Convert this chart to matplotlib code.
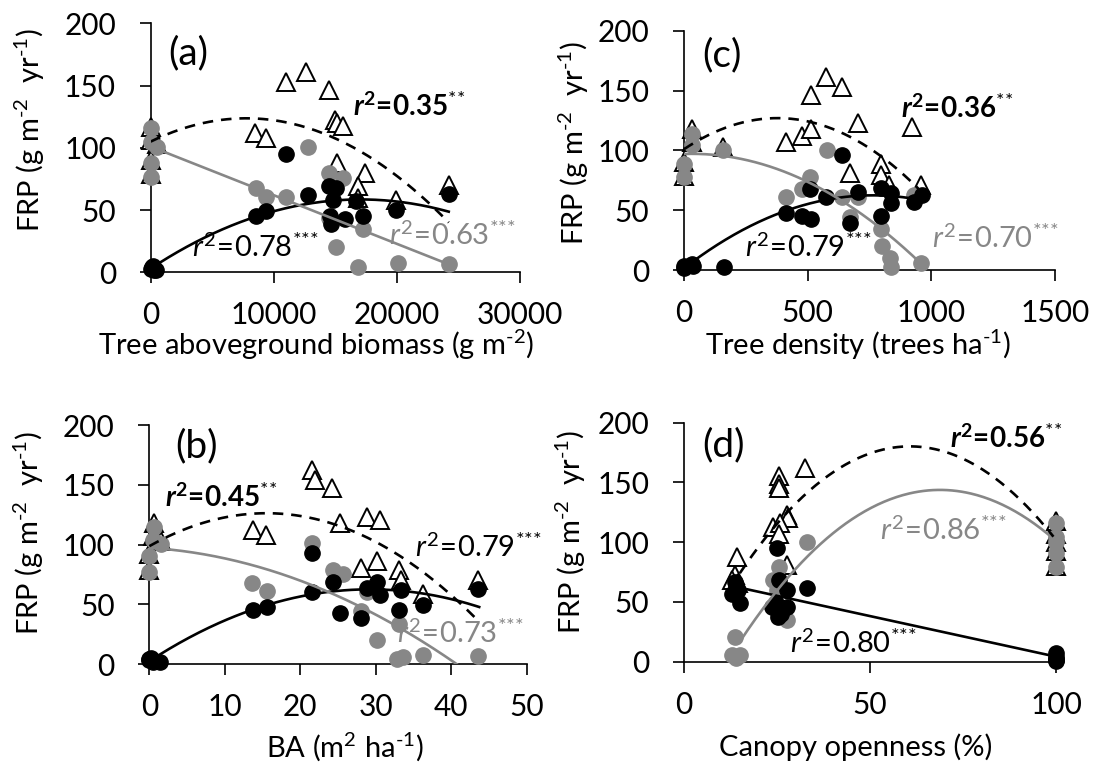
import numpy as np
import matplotlib
matplotlib.use('Agg')
import matplotlib.pyplot as plt

FONT = 'Lato'
plt.rcParams['font.family'] = [FONT, 'DejaVu Sans']
plt.rcParams['mathtext.fontset'] = 'custom'
plt.rcParams['mathtext.rm'] = FONT
plt.rcParams['mathtext.it'] = FONT + ':italic'
plt.rcParams['mathtext.bf'] = FONT + ':bold'
HAS_BFIT = 'mathtext.bfit' in plt.rcParams
if HAS_BFIT:
    plt.rcParams['mathtext.bfit'] = FONT + ':italic:bold'

GREY = '#878787'

# ---------------- data: panel (a) tree aboveground biomass ----------------
a_tri_x = [0, 0, 486, 0, 0, 8510, 9350, 11030, 12650, 14490, 14950, 15100, 15620,
           15140, 17380, 16840, 16840, 19950, 24220]
a_tri_y = [117, 106, 103, 90, 79, 112, 108, 153, 161, 146.5, 122, 120, 117.5,
           87.5, 79.5, 69, 59.4, 58, 70]
a_grey_x = [0, 0, 486, 0, 0, 12780, 8540, 9350, 11030, 14490, 15620, 14490, 15080,
            16840, 17240, 20080, 24220]
a_grey_y = [115.7, 105, 101, 88, 76.8, 101, 67.5, 60.8, 60.8, 79.5, 75.5, 43.4, 20.6,
            4.6, 34.5, 7.2, 6.4]
a_blk_x = [0, 200, 400, 100, 300, 8540, 9400, 11030, 12780, 14490, 15080, 14810, 14540,
           14680, 15760, 16700, 17240, 19950, 24270]
a_blk_y = [3, 5, 2, 4, 1.5, 45, 49, 95, 62, 69, 67.5, 58, 45, 39, 43, 57, 45, 50, 63]
# fitted curves, anchor points
a_fit_blk = ([0, 8540, 24216], [3, 44.7, 48.7])
a_fit_grey = ([0, 24216], [101, 6.4])
a_fit_dash = ([0, 7784, 24216], [105, 123.7, 40])

# ---------------- data: panel (c) tree density ----------------
c_tri_x = [31, 31, 159, 0, 0, 576, 514, 639, 413, 477, 514, 703, 923, 670, 795, 795, 828, 957]
c_tri_y = [118, 107, 103, 90, 79, 161, 146, 153, 107, 112, 118, 122.5, 119.8, 80.8, 88.3,
           79.4, 71, 71]
c_grey_x = [31, 31, 0, 0, 159, 578, 511, 477, 413, 639, 703, 670, 795, 801, 833, 835, 957, 930]
c_grey_y = [114, 104.5, 89, 78, 100, 100, 78, 68, 61, 61, 61, 44.6, 34, 20, 9.7, 2.8, 6.1, 62.7]
c_blk_x = [0, 0, 31, 35, 162, 413, 477, 514, 639, 511, 576, 703, 670, 795, 835, 835, 795, 930, 963]
c_blk_y = [3, 1.5, 5, 3, 2.2, 47.4, 45, 43, 96, 68, 60.7, 65.5, 39.6, 68.2, 64, 55.7, 45, 57, 62.7]
c_fit_blk = ([0, 413, 957], [1.5, 49.6, 58.5])
c_fit_grey = ([0, 497, 957], [97, 74, 5.6])
c_fit_dash = ([0, 416, 957], [101, 126.7, 66])

# ---------------- data: panel (b) basal area ----------------
b_tri_x = [0.6, 0.5, 1.6, 0, 0, 21.6, 21.9, 24.2, 13.7, 15.5, 25.3, 28.9, 30.6, 28, 30.1,
           33.1, 33.4, 36.2, 43.6]
b_tri_y = [118, 107, 103, 92, 79, 162, 154, 147, 112, 108, 117.7, 123.3, 120.5, 80, 86.5,
           78.7, 70, 59, 70]
b_grey_x = [0.6, 0.5, 1.6, 0, 0, 21.6, 13.6, 15.6, 24.3, 25.6, 28.0, 28.9, 30.2, 33.1,
            32.8, 33.6, 36.2, 43.6]
b_grey_y = [115, 104, 100.4, 90, 77, 101.5, 68, 61.4, 78.7, 75.3, 44.6, 60.5, 20, 33.5,
            3.9, 6.1, 7.5, 6.7]
b_blk_x = [0, 0.5, 1.4, 0.2, 0, 13.7, 15.6, 21.6, 21.6, 24.3, 25.3, 28.0, 28.9, 30.1,
           30.5, 33.1, 33.4, 36.2, 43.6]
b_blk_y = [4, 2, 2, 5, 3, 45.2, 48, 93, 60.5, 68.9, 42.4, 38.2, 63.3, 68.9, 57.7, 45.2,
           62, 49.4, 62.5]
b_fit_blk = ([0, 13.7, 28.3, 43.7], [2, 46.5, 61.5, 48])
b_fit_grey = ([0, 10.7, 21.6, 32.8, 41.1], [96, 89.8, 66, 28.5, 0])
b_fit_dash = ([0, 15.1, 32.8, 43.6], [98, 128, 89.8, 37])

# ---------------- data: panel (d) canopy openness ----------------
d_tri_x = [14.2, 13.7, 25.4, 25.4, 25.4, 32.5, 27.6, 28, 24, 25.8, 25.4, 27.6,
           100, 100, 100, 100, 100, 13, 14.5]
d_tri_y = [88, 72.5, 155, 149, 145, 162, 123, 120, 113, 116, 107, 81,
           118, 107, 100, 93, 80, 68, 66]
d_grey_x = [13.7, 12.8, 15, 14.1, 100, 100, 100, 100, 100, 33, 25.4, 24, 27.6, 25, 14]
d_grey_y = [21, 5.5, 5.5, 3, 115.8, 104.6, 90.7, 79.5, 100, 100.4, 79.5, 68.3, 34.9, 60, 62]
d_blk_x = [100, 100, 100, 100, 100, 13.7, 14.1, 15, 12.8, 14.6, 24.9, 25.4, 27.6, 24.6,
           26, 27.6, 25.2, 23.7, 33]
d_blk_y = [4, 1.4, 7, 2, 0.5, 67, 63, 49, 57, 60, 94.8, 68.3, 60, 49, 40, 46, 37, 46, 61.4]
d_fit_blk = ([13.7, 100], [62.8, 4.2])
d_fit_grey = ([15, 69.7, 99.7], [16.7, 143.7, 101.8])
d_fit_dash = ([15, 62.5, 99.3], [74, 180, 104.6])

y_ticks = [0, 50, 100, 150, 200]

# ---------------- helpers ----------------
def r2_label(val, stars, bold):
    st = '^{' + ''.join('{*}' for _ in range(stars)) + '}'
    if bold:
        r = r'\mathbfit{r}' if HAS_BFIT else r'\mathbf{r}'
        return r'$' + r + r'^{\mathbf{2}}\!\mathregular{=}\!\mathregular{' + val + '}' + st + '$'
    return r'$\mathit{r}^{\mathregular{2}}\!\mathregular{=}\!\mathregular{' + val + '}' + st + '$'


def fit_curve(ax, anchors, deg, **kw):
    xs, ys = anchors
    coef = np.polyfit(xs, ys, deg)
    xx = np.linspace(min(xs), max(xs), 200)
    ax.plot(xx, np.polyval(coef, xx), **kw)


def panel(rect, tri, grey, blk, fits, xlim, xticks, letter, letter_xy, notes):
    ax = fig.add_axes(rect)
    ax.plot(tri[0], tri[1], ls='none', marker='^', ms=12.5, mfc='white', mec='black',
            mew=1.4, clip_on=False, zorder=3)
    ax.plot(grey[0], grey[1], ls='none', marker='o', ms=11, mfc=GREY, mec=GREY,
            clip_on=False, zorder=4)
    ax.plot(blk[0], blk[1], ls='none', marker='o', ms=11, mfc='black', mec='black',
            clip_on=False, zorder=5)
    (fb, db), (fg, dg), (fd, dd) = fits
    fit_curve(ax, fb, db, color='black', lw=1.9, zorder=6)
    fit_curve(ax, fg, dg, color=GREY, lw=1.9, zorder=6)
    fit_curve(ax, fd, dd, color='black', lw=1.9, ls=(0, (4, 3)), zorder=6)
    ax.set_xlim(*xlim)
    ax.set_ylim(0, 200)
    ax.set_xticks(xticks)
    ax.set_yticks(y_ticks)
    for s in ('top', 'right'):
        ax.spines[s].set_visible(False)
    for s in ('left', 'bottom'):
        ax.spines[s].set_linewidth(1.2)
    ax.tick_params(axis='both', direction='out', length=8, width=1.2, labelsize=21.5)
    ax.tick_params(axis='y', pad=17)
    ax.tick_params(axis='x', pad=13)
    ax.text(letter_xy[0], letter_xy[1], letter, fontsize=28, ha='center', va='center')
    for (x, y, val, stars, bold, col) in notes:
        ax.text(x, y, r2_label(val, stars, bold), fontsize=20 if bold else 21, color=col,
                fontweight='bold' if bold else 'normal', ha='left', va='center', zorder=7)
    return ax


fig = plt.figure(figsize=(10.99, 7.8), dpi=100)

panel([0.1371, 0.6509, 0.3360, 0.3192],
      (a_tri_x, a_tri_y), (a_grey_x, a_grey_y), (a_blk_x, a_blk_y),
      ((a_fit_blk, 2), (a_fit_grey, 1), (a_fit_dash, 2)),
      (0, 30000), [0, 10000, 20000, 30000], '(a)', (3054, 176),
      [(16430, 133.6, '0.35', 2, True, 'black'),
       (3324, 20.6, '0.78', 3, False, 'black'),
       (19350, 30, '0.63', 3, False, GREY)])

panel([0.6224, 0.6538, 0.3376, 0.3068],
      (c_tri_x, c_tri_y), (c_grey_x, c_grey_y), (c_blk_x, c_blk_y),
      ((c_fit_blk, 2), (c_fit_grey, 2), (c_fit_dash, 2)),
      (0, 1500), [0, 500, 1000, 1500], '(c)', (153, 179.7),
      [(876, 135, '0.36', 2, True, 'black'),
       (247, 19.5, '0.79', 3, False, 'black'),
       (1004, 26.5, '0.70', 3, False, GREY)])

panel([0.1359, 0.1487, 0.3434, 0.3064],
      (b_tri_x, b_tri_y), (b_grey_x, b_grey_y), (b_blk_x, b_blk_y),
      ((b_fit_blk, 2), (b_fit_grey, 2), (b_fit_dash, 2)),
      (0, 50), [0, 10, 20, 30, 40, 50], '(b)', (6.27, 181.9),
      [(2.07, 140, '0.45', 2, True, 'black'),
       (35.2, 98.2, '0.79', 3, False, 'black'),
       (32.8, 25.7, '0.73', 3, False, GREY)])

panel([0.6224, 0.1517, 0.3385, 0.3064],
      (d_tri_x, d_tri_y), (d_grey_x, d_grey_y), (d_blk_x, d_blk_y),
      ((d_fit_blk, 1), (d_fit_grey, 2), (d_fit_dash, 2)),
      (0, 100), [0, 50, 100], '(d)', (10.6, 181.3),
      [(71.5, 186.9, '0.56', 2, True, 'black'),
       (52.7, 110, '0.86', 3, False, GREY),
       (28.5, 15.3, '0.80', 3, False, 'black')])

ylab = r'FRP (g m$^{\text{-2}}$  yr$^{\text{-1}}$)'
for (x, y) in [(30, 130), (574, 143), (29, 533), (571, 532)]:
    fig.text(x / 1099, 1 - y / 780, ylab, rotation=90, fontsize=21, ha='center', va='center')

xlabs = [(316, 345, r'Tree aboveground biomass (g m$^{\text{-2}}$)'),
         (858, 345, r'Tree density (trees ha$^{\text{-1}}$)'),
         (345, 747, r'BA (m$^{\text{2}}$ ha$^{\text{-1}}$)'),
         (856, 747, 'Canopy openness (%)')]
for (x, y, t) in xlabs:
    fig.text(x / 1099, 1 - y / 780, t, fontsize=21, ha='center', va='center')

fig.savefig('out.png', dpi=100)
